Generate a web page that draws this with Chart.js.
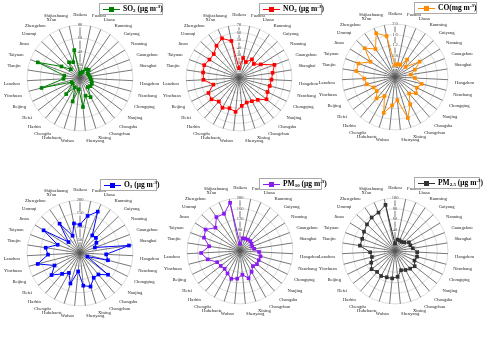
<!DOCTYPE html>
<html>
<head>
<meta charset="utf-8">
<script src="https://cdn.jsdelivr.net/npm/chart.js@4.4.0/dist/chart.umd.min.js"></script>
<style>
  body{margin:0;background:#fff;width:500px;height:347px;position:relative;overflow:hidden;font-family:"Liberation Serif",serif}
  canvas{position:absolute}
  .lg{position:absolute;border:1px solid #aaa;height:12px;font:bold 7.5px "Liberation Serif",serif;display:flex;align-items:center;background:#fff;white-space:nowrap;box-sizing:border-box;padding-right:3px;z-index:2}
  .lg i{display:inline-block;width:17px;height:1px;position:relative;margin:0 3px 0 3px;flex:none}
  .lg i b{position:absolute;left:6px;top:-2px;width:5px;height:5px}
  .lg span{display:inline-block;line-height:12px}
  .lg sub,.lg sup{font-size:5px;position:relative;vertical-align:baseline}
  .lg sub{top:1.5px}
  .lg sup{top:-3px}
</style>
</head>
<body>
<canvas id="cSO2" width="166" height="168"></canvas>
<canvas id="cNO2" width="166" height="168"></canvas>
<canvas id="cCO" width="166" height="168"></canvas>
<canvas id="cO3" width="166" height="168"></canvas>
<canvas id="cPM10" width="166" height="168"></canvas>
<canvas id="cPM25" width="166" height="168"></canvas>

<div class="lg" id="lSO2"><i><b></b></i><span>SO<sub>2</sub> (μg m<sup>-3</sup>)</span></div>
<div class="lg" id="lNO2"><i><b></b></i><span>NO<sub>2</sub> (μg m<sup>-3</sup>)</span></div>
<div class="lg" id="lCO"><i><b></b></i><span>CO(mg m<sup>-3</sup>)</span></div>
<div class="lg" id="lO3"><i><b></b></i><span>O<sub>3</sub> (μg m<sup>-3</sup>)</span></div>
<div class="lg" id="lPM10"><i><b></b></i><span>PM<sub>10</sub> (μg m<sup>-3</sup>)</span></div>
<div class="lg" id="lPM25"><i><b></b></i><span>PM<sub>2.5</sub> (μg m<sup>-3</sup>)</span></div>

<script>
// 31 provincial capitals, clockwise from the top
const cities = ["Haikou","Fuzhou","Lhasa","Kunming","Guiyang","Nanning","Guangzhou","Shanghai","Hangzhou","Nanchang","Chongqing","Nanjing","Changsha","Changchun","Xining","Shenyang","Wuhan","Huhehaote","Chengdu","Harbin","Hefei","Beijing","Yinchuan","Lanzhou","Tianjin","Taiyuan","Jinan","Urumqi","Zhengzhou","Xi'an","Shijiazhuang"];

const so2  = [6,8,10,16,18,14,14,15,16,18,20,20,18,33,28,44,17,37,16,32,14,14,60,25,24,68,33,19,29,26,43];
const no2  = [13,27,23,30,27,34,50,45,43,42,42,46,38,35,34,37,45,42,45,41,46,45,35,47,48,49,46,46,52,57,50];
const co   = [0.45,0.5,0.5,0.8,0.55,1.1,0.8,0.6,0.75,1.04,0.92,1.0,0.82,1.18,1.62,0.88,1.08,1.42,0.82,1.07,0.87,0.9,1.1,1.16,1.48,1.47,1.09,1.58,1.29,1.8,1.58];
const o3   = [107,143,170,81,83,73,60,187,99,109,31,134,107,107,133,124,70,121,86,104,136,107,165,121,131,90,162,60,135,71,114];
const pm10 = [27,49,51,52,54,51,49,54,72,80,79,81,75,90,108,90,105,110,97,89,92,96,126,147,118,145,153,128,156,153,186];
const pm25 = [14,22,22,21,24,31,31,34,42,43,41,47,44,41,38,49,52,52,54,52,56,50,45,47,67,66,69,73,77,79,89];

// axis ranges for each pollutant
const scaleMax  = {so2:80, no2:70, co:2, o3:200, pm10:200, pm25:100};
const scaleStep = {so2:20, no2:10, co:0.4, o3:50, pm10:40, pm25:20};

// the radial scale centre sits at (81, 84) inside each canvas
function place(id, cx, cy){
  const el = document.getElementById(id);
  el.style.left = (cx - 81) + "px";
  el.style.top = (cy - 84) + "px";
}

function legend(id, color, x, y, w){
  const el = document.getElementById(id);
  el.style.left = x + "px"; el.style.top = y + "px"; el.style.width = w + "px";
  el.querySelector("i").style.background = color;
  el.querySelector("b").style.background = color;
}

function radar(id, values, color, max, step){
  new Chart(document.getElementById(id), {
    type: "radar",
    data: {
      labels: cities,
      datasets: [{
        data: values,
        borderColor: color,
        backgroundColor: color,
        borderWidth: 1,
        pointStyle: "rect",
        pointRadius: 2.6,
        pointBorderWidth: 0,
        pointBackgroundColor: color,
        fill: false,
        tension: 0
      }]
    },
    options: {
      responsive: false,
      animation: false,
      events: [],
      plugins: {legend: {display: false}, tooltip: {enabled: false}},
      layout: {padding: 4},
      scales: {
        r: {
          min: 0, max: max,
          beginAtZero: true,
          angleLines: {color: "#555", lineWidth: 0.8},
          grid: {circular: true, color: "#d4d4d4", lineWidth: 0.8},
          ticks: {stepSize: step, font: {size: 4.5, family: "Liberation Serif"}, color: "#333",
                  showLabelBackdrop: true, backdropColor: "#fff", backdropPadding: 0},
          pointLabels: {font: {size: 4.6, family: "Liberation Serif"}, color: "#222", padding: 5}
        }
      }
    }
  });
}

place("cSO2", 80, 78);   place("cNO2", 239, 78);   place("cCO", 395, 77);
place("cO3", 80, 253);   place("cPM10", 240, 251); place("cPM25", 395, 251);

radar("cSO2",  so2,  "#008000", scaleMax.so2,  scaleStep.so2);
radar("cNO2",  no2,  "#ff0000", scaleMax.no2,  scaleStep.no2);
radar("cCO",   co,   "#ff8c00", scaleMax.co,   scaleStep.co);
radar("cO3",   o3,   "#0000ff", scaleMax.o3,   scaleStep.o3);
radar("cPM10", pm10, "#8a1cf0", scaleMax.pm10, scaleStep.pm10);
radar("cPM25", pm25, "#333333", scaleMax.pm25, scaleStep.pm25);

legend("lSO2",  "#008000", 99, 3, 64);
legend("lNO2",  "#ff0000", 259, 3, 63);
legend("lCO",   "#ff8c00", 414, 2, 63);
legend("lO3",   "#0000ff", 100, 179, 57);
legend("lPM10", "#8a1cf0", 259, 178, 63);
legend("lPM25", "#333333", 414, 177, 66);
</script>
</body>
</html>
